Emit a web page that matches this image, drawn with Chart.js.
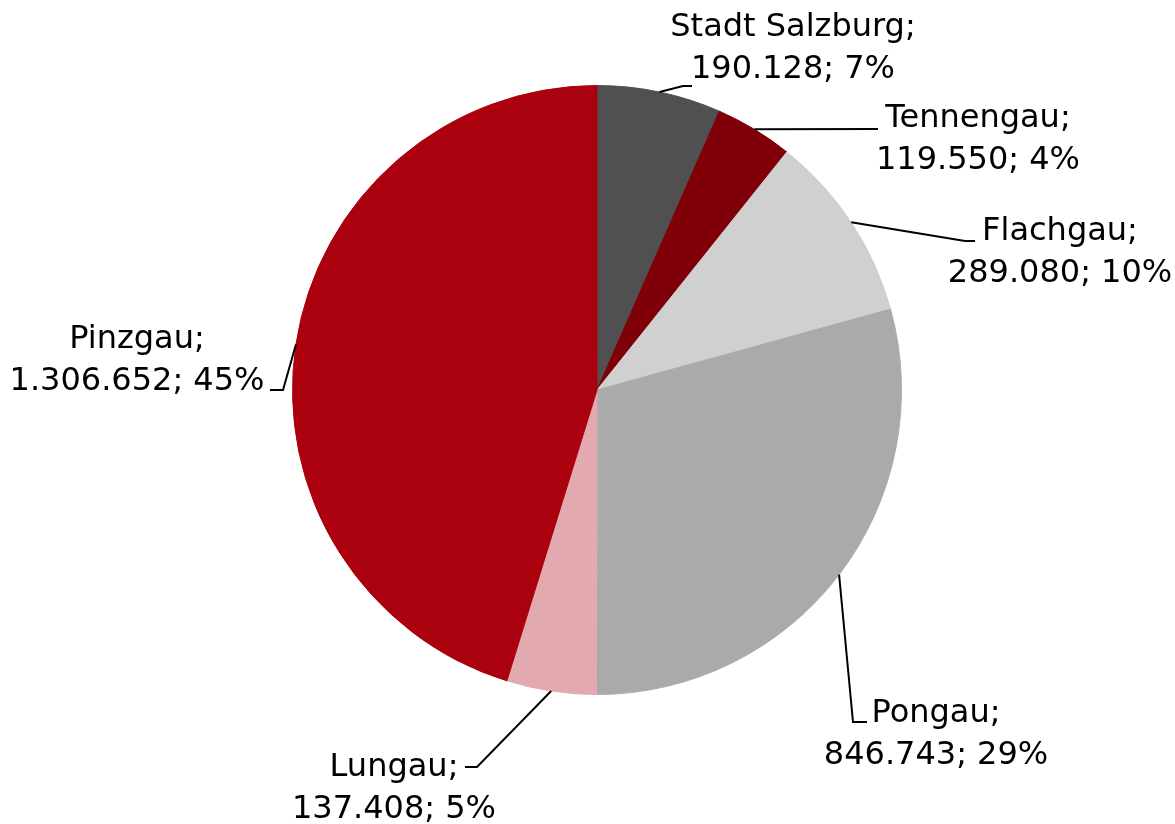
<!DOCTYPE html>
<html>
<head>
<meta charset="utf-8">
<script src="https://cdn.jsdelivr.net/npm/chart.js@4/dist/chart.umd.min.js"></script>
<style>
  html, body { margin: 0; padding: 0; background: #fff; }
  #wrap { width: 1175px; height: 824px; position: relative; }
</style>
</head>
<body>
<div id="wrap"><canvas id="pie"></canvas></div>
<script>
const regions = ["Stadt Salzburg", "Tennengau", "Flachgau", "Pongau", "Lungau", "Pinzgau"];
const values = [190128, 119550, 289080, 846743, 137408, 1306652];
const colors = ["#505050", "#80000a", "#d0d0d0", "#aaaaaa", "#e2a9ae", "#ab000d"];

// Label placement relative to pie centre: text centre / first baseline, elbow, line end
const labelLayout = [
  { tx: 196, ty: -354, ex: 86, ey: -304, hx: 95, hy: -304 },
  { tx: 381, ty: -263, ex: 281, ey: -261, hx: 281, hy: -261 },
  { tx: 463, ty: -150, ex: 368, ey: -149, hx: 378, hy: -149 },
  { tx: 339, ty: 332, ex: 256, ey: 332, hx: 270, hy: 332 },
  { tx: -203, ty: 386, ex: -120, ey: 377, hx: -132, hy: 377 },
  { tx: -460, ty: -42, ex: -314, ey: 0, hx: -327, hy: 0 }
];

const total = values.reduce((a, b) => a + b, 0);

function fmt(n) {
  return String(n).replace(/\B(?=(\d{3})+(?!\d))/g, ".");
}

const calloutPlugin = {
  id: "callouts",
  afterDatasetsDraw(chart) {
    const ctx = chart.ctx;
    const arcs = chart.getDatasetMeta(0).data;
    ctx.save();
    arcs.forEach((arc, i) => {
      const p = arc.getProps(["x", "y", "startAngle", "endAngle", "outerRadius"], true);
      const mid = (p.startAngle + p.endAngle) / 2;
      const ax = p.x + Math.cos(mid) * p.outerRadius;
      const ay = p.y + Math.sin(mid) * p.outerRadius;
      const l = labelLayout[i];
      ctx.strokeStyle = "#000";
      ctx.lineWidth = 2;
      ctx.beginPath();
      ctx.moveTo(ax, ay);
      ctx.lineTo(p.x + l.ex, p.y + l.ey);
      ctx.lineTo(p.x + l.hx, p.y + l.hy);
      ctx.stroke();

      ctx.fillStyle = "#000";
      ctx.font = "32px 'DejaVu Sans'";
      ctx.textAlign = "center";
      ctx.textBaseline = "alphabetic";
      const pct = Math.round(values[i] / total * 100);
      ctx.fillText(regions[i] + ";", p.x + l.tx, p.y + l.ty);
      ctx.fillText(fmt(values[i]) + "; " + pct + "%", p.x + l.tx, p.y + l.ty + 42);
    });
    ctx.restore();
  }
};

new Chart(document.getElementById("pie"), {
  type: "pie",
  data: {
    labels: regions,
    datasets: [{
      data: values,
      backgroundColor: colors,
      borderColor: colors,
      borderWidth: 1
    }]
  },
  options: {
    responsive: true,
    maintainAspectRatio: false,
    animation: false,
    layout: { padding: { left: 292, right: 273, top: 85, bottom: 129 } },
    plugins: {
      legend: { display: false },
      tooltip: { enabled: false }
    }
  },
  plugins: [calloutPlugin]
});
</script>
</body>
</html>
